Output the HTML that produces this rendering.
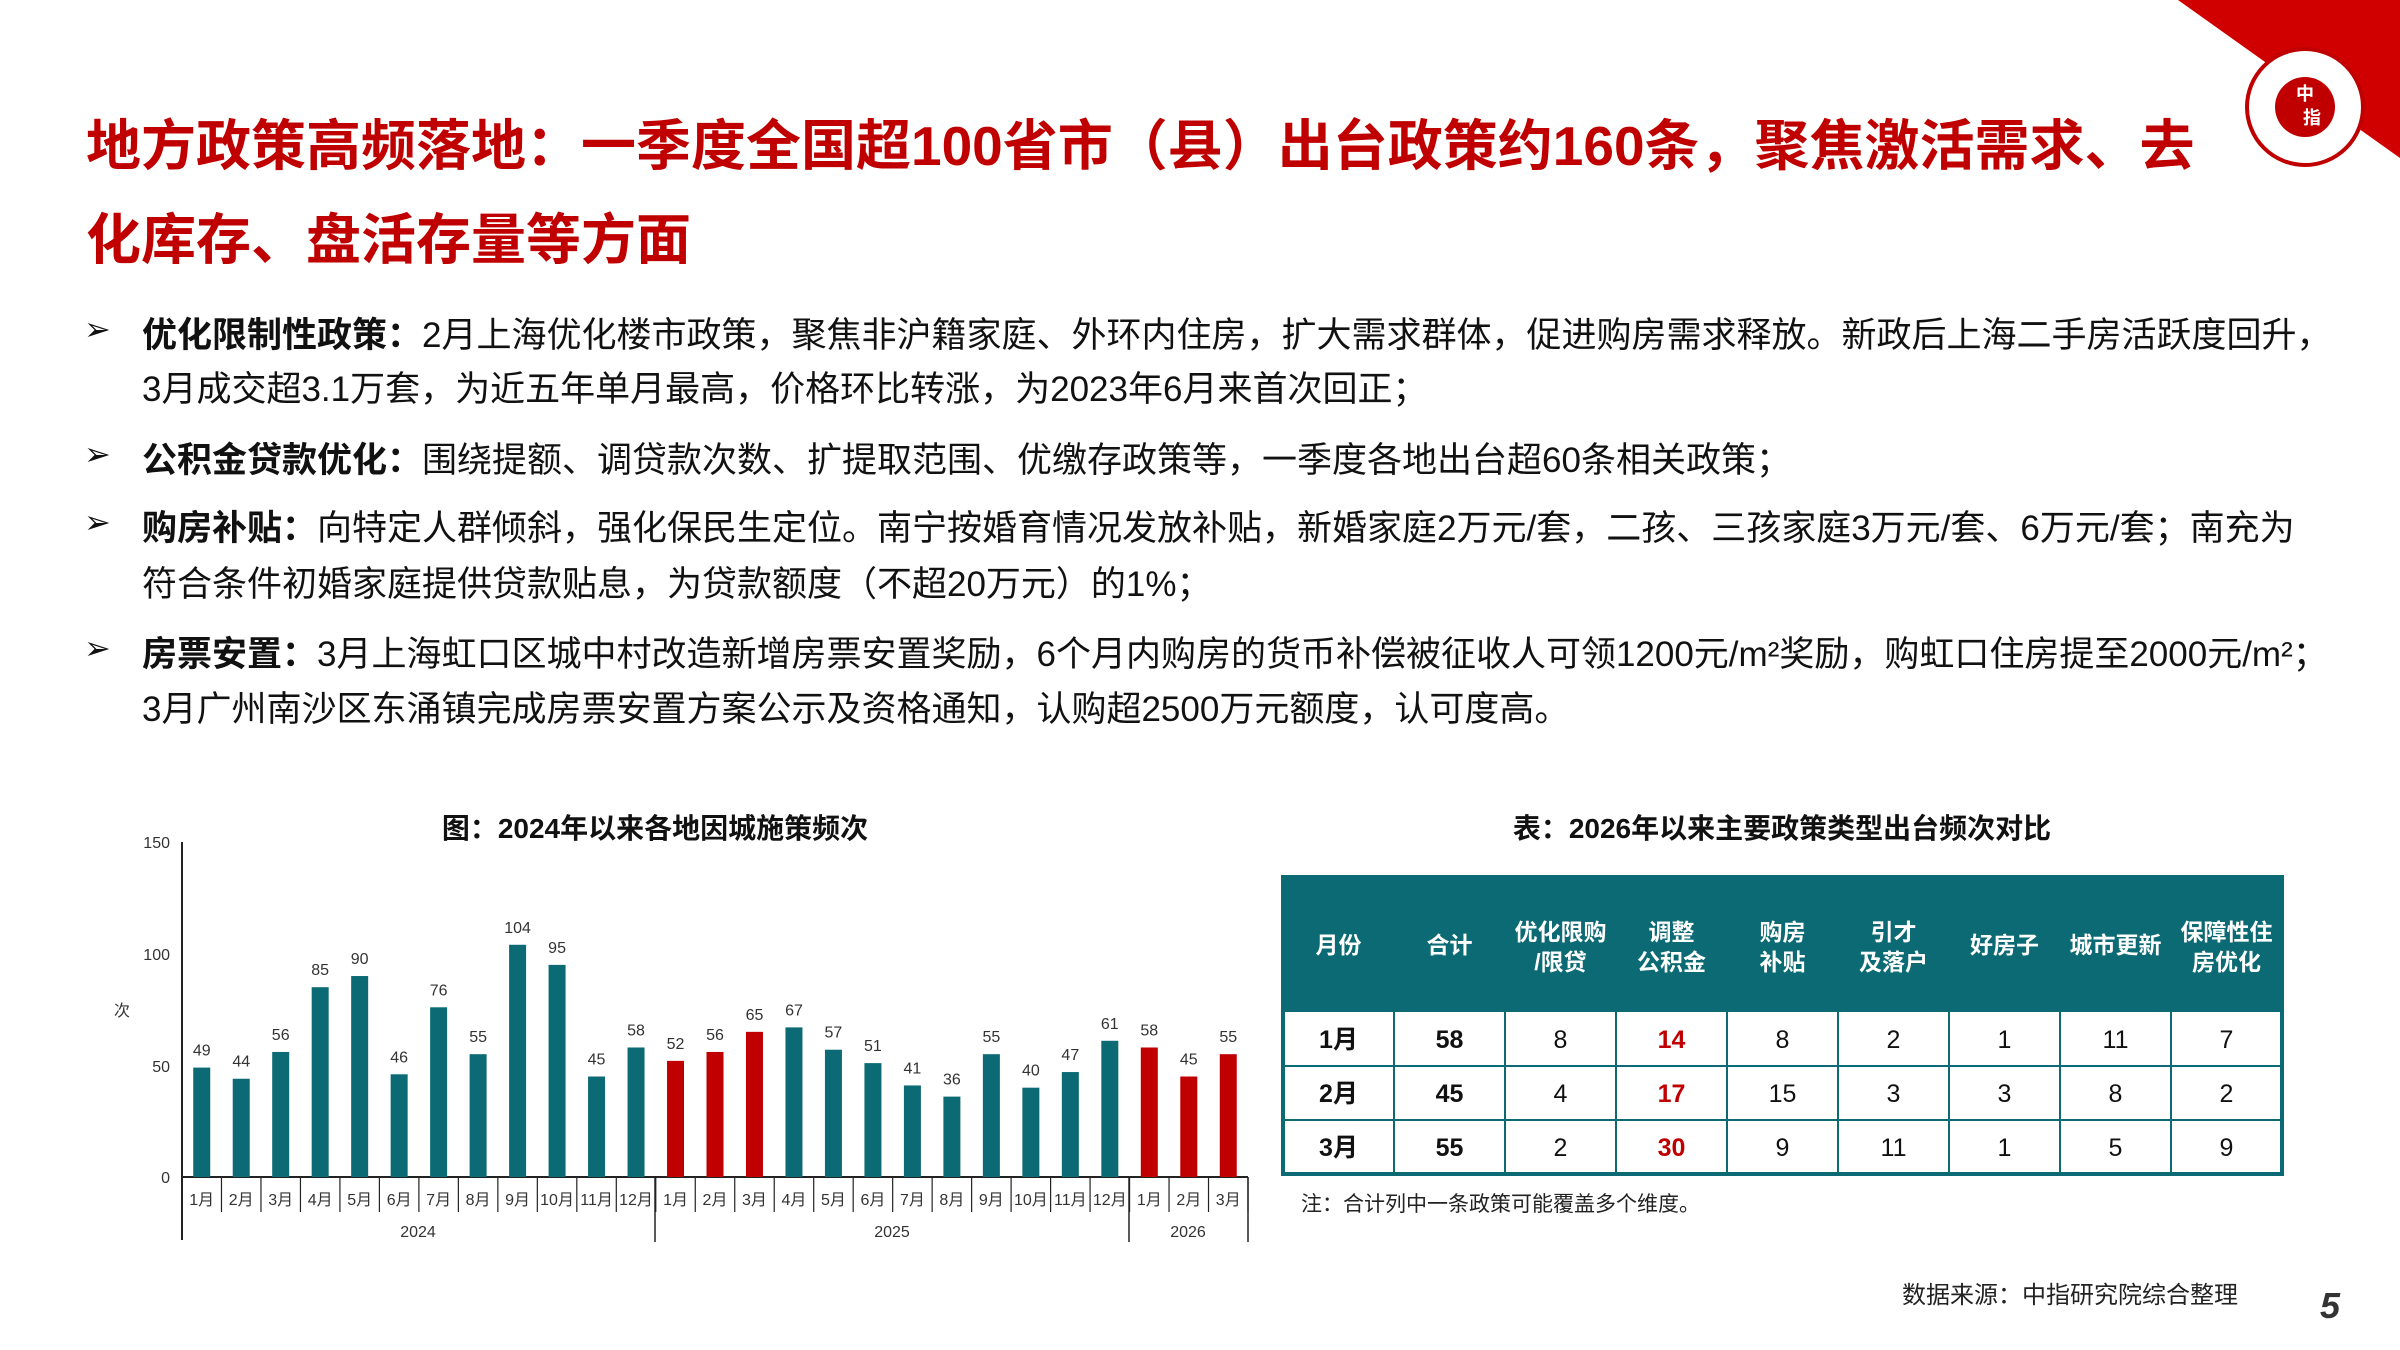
<!DOCTYPE html>
<html><head><meta charset="utf-8"><style>
body{margin:0;width:2400px;height:1350px;background:#fff;position:relative;overflow:hidden;font-family:"Liberation Sans","Noto Sans CJK SC",sans-serif;}
.t{position:absolute;left:86px;color:#c00000;font-weight:bold;font-size:55px;white-space:nowrap;}
.l{position:absolute;left:142px;font-size:35px;color:#111;white-space:nowrap;}
.b{position:absolute;left:84px;font-size:32px;color:#111;}
</style></head><body>
<div class="t" style="top:101px">地方政策高频落地：一季度全国超100省市（县）出台政策约160条，聚焦激活需求、去</div>
<div class="t" style="top:195px">化库存、盘活存量等方面</div>
<div class="b" style="top:310px">➢</div>
<div class="l" style="top:307px"><b>优化限制性政策：</b>2月上海优化楼市政策，聚焦非沪籍家庭、外环内住房，扩大需求群体，促进购房需求释放。新政后上海二手房活跃度回升，</div>
<div class="l" style="top:361px">3月成交超3.1万套，为近五年单月最高，价格环比转涨，为2023年6月来首次回正；</div>
<div class="b" style="top:435px">➢</div>
<div class="l" style="top:432px"><b>公积金贷款优化：</b>围绕提额、调贷款次数、扩提取范围、优缴存政策等，一季度各地出台超60条相关政策；</div>
<div class="b" style="top:503px">➢</div>
<div class="l" style="top:500px"><b>购房补贴：</b>向特定人群倾斜，强化保民生定位。南宁按婚育情况发放补贴，新婚家庭2万元/套，二孩、三孩家庭3万元/套、6万元/套；南充为</div>
<div class="l" style="top:556px">符合条件初婚家庭提供贷款贴息，为贷款额度（不超20万元）的1%；</div>
<div class="b" style="top:629px">➢</div>
<div class="l" style="top:626px"><b>房票安置：</b>3月上海虹口区城中村改造新增房票安置奖励，6个月内购房的货币补偿被征收人可领1200元/m²奖励，购虹口住房提至2000元/m²；</div>
<div class="l" style="top:681px">3月广州南沙区东涌镇完成房票安置方案公示及资格通知，认购超2500万元额度，认可度高。</div>
<svg width="2400" height="1350" style="position:absolute;left:0;top:0" font-family="Liberation Sans, Noto Sans CJK SC, sans-serif">
<polygon points="2178,0 2400,0 2400,158" fill="#d00000"/>
<circle cx="2305" cy="107" r="58" fill="#fff" stroke="#c00000" stroke-width="4"/>
<circle cx="2305" cy="107" r="30" fill="#c00000"/>
<text x="2305" y="100" font-size="18" fill="#fff" text-anchor="middle" font-weight="bold">中</text>
<text x="2312" y="124" font-size="18" fill="#fff" text-anchor="middle" font-weight="bold">指</text>
<text x="655" y="838" font-size="28" font-weight="bold" text-anchor="middle" fill="#111">图：2024年以来各地因城施策频次</text>
<g font-size="16" fill="#333" text-anchor="end">
<text x="170" y="848">150</text><text x="170" y="960">100</text><text x="170" y="1072">50</text><text x="170" y="1183">0</text>
</g>
<text x="122" y="1016" font-size="16" fill="#333" text-anchor="middle">次</text>
<line x1="182" y1="842" x2="182" y2="1240" stroke="#222" stroke-width="2"/>
<line x1="182" y1="1177" x2="1248" y2="1177" stroke="#222" stroke-width="2"/>
<g id="bars"></g>
<g font-size="16" fill="#333" text-anchor="middle">
<text x="418" y="1237">2024</text><text x="892" y="1237">2025</text><text x="1188" y="1237">2026</text>
</g>
<line x1="655" y1="1177" x2="655" y2="1242" stroke="#222" stroke-width="1.5"/>
<line x1="1129" y1="1177" x2="1129" y2="1242" stroke="#222" stroke-width="1.5"/>
<line x1="1248" y1="1177" x2="1248" y2="1242" stroke="#222" stroke-width="1.5"/>
<text x="1782" y="838" font-size="28" font-weight="bold" text-anchor="middle" fill="#111">表：2026年以来主要政策类型出台频次对比</text>
<g id="tbl"></g>
<text x="1301" y="1211" font-size="21" fill="#222">注：合计列中一条政策可能覆盖多个维度。</text>
<text x="1902" y="1303" font-size="24" fill="#222">数据来源：中指研究院综合整理</text>
<text x="2330" y="1318" font-size="36" font-weight="bold" font-style="italic" fill="#333" text-anchor="middle">5</text>
</svg>
<script>
var ns="http://www.w3.org/2000/svg";
function el(p,n,a,t){var e=document.createElementNS(ns,n);for(var k in a)e.setAttribute(k,a[k]);if(t!=null)e.textContent=t;p.appendChild(e);return e;}
var v=[49,44,56,85,90,46,76,55,104,95,45,58,52,56,65,67,57,51,41,36,55,40,47,61,58,45,55];
var g=document.getElementById("bars"),cw=(1248-182)/27;
for(var i=0;i<27;i++){var cx=182+cw*(i+0.5),h=v[i]*2.233,red=(i>=12&&i<=14)||i>=24;
el(g,"rect",{x:cx-8.5,y:1177-h,width:17,height:h,fill:red?"#c00000":"#0b6a73"});
el(g,"text",{x:cx,y:1177-h-12,"font-size":16,fill:"#333","text-anchor":"middle"},v[i]);
el(g,"text",{x:cx,y:1205,"font-size":16,fill:"#333","text-anchor":"middle"},(i%12+1)+"月");
el(g,"line",{x1:182+cw*(i+1),y1:1177,x2:182+cw*(i+1),y2:1212,stroke:"#222","stroke-width":1.2});}
var t=document.getElementById("tbl"),x0=1283,cwid=111,ys=[877,1012,1066,1120,1174];
el(t,"rect",{x:x0,y:877,width:999,height:135,fill:"#0b6a73"});
el(t,"rect",{x:x0,y:877,width:999,height:297,fill:"none",stroke:"#0b6a73","stroke-width":4});
var hd=[["月份"],["合计"],["优化限购","/限贷"],["调整","公积金"],["购房","补贴"],["引才","及落户"],["好房子"],["城市更新"],["保障性住","房优化"]];
for(var c=0;c<9;c++){var cx=x0+cwid*(c+0.5);if(c>0)el(t,"line",{x1:x0+cwid*c,y1:877,x2:x0+cwid*c,y2:1174,stroke:"#0b6a73","stroke-width":2});
if(hd[c].length==1)el(t,"text",{x:cx,y:953,"font-size":23,"font-weight":"bold",fill:"#fff","text-anchor":"middle"},hd[c][0]);
else{el(t,"text",{x:cx,y:940,"font-size":23,"font-weight":"bold",fill:"#fff","text-anchor":"middle"},hd[c][0]);el(t,"text",{x:cx,y:970,"font-size":23,"font-weight":"bold",fill:"#fff","text-anchor":"middle"},hd[c][1]);}}
for(var r=1;r<3;r++)el(t,"line",{x1:x0,y1:ys[r+1],x2:x0+999,y2:ys[r+1],stroke:"#0b6a73","stroke-width":2});
var rows=[["1月",58,8,14,8,2,1,11,7],["2月",45,4,17,15,3,3,8,2],["3月",55,2,30,9,11,1,5,9]];
for(var r=0;r<3;r++)for(var c=0;c<9;c++){el(t,"text",{x:x0+cwid*(c+0.5),y:ys[r+1]+36,"font-size":25,"font-weight":c<2||c==3?"bold":"normal",fill:c==3?"#c00000":"#111","text-anchor":"middle"},rows[r][c]);}
</script>
</body></html>
